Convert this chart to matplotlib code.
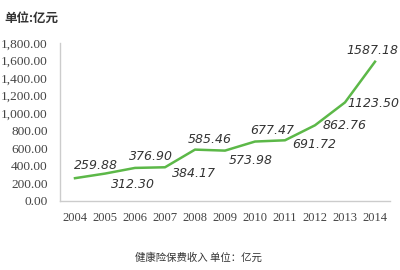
import matplotlib
matplotlib.use('Agg')
import matplotlib.pyplot as plt
from matplotlib.ticker import FuncFormatter

plt.rcParams['font.family'] = ['Noto Sans CJK SC', 'DejaVu Sans']

# 数据
years = ['2004', '2005', '2006', '2007', '2008', '2009', '2010', '2011', '2012', '2013', '2014']
income = [259.88, 312.30, 376.90, 384.17, 585.46, 573.98, 677.47, 691.72, 862.76, 1123.50, 1587.18]
# 标签相对位置(像素)
label_offsets = [(21, 13), (28, -11), (16, 11), (29, -6), (15, 10), (26, -10),
                 (17, 11), (29, -4), (30, 0), (28, -1), (-3, 11)]

fig = plt.figure(figsize=(4, 2.7), dpi=100)
ax = fig.add_axes([0.15, 0.2556, 0.825, 0.585])

x = list(range(len(years)))
ax.plot(x, income, color='#5cb848', linewidth=1.8, solid_joinstyle='round')

for i, v in enumerate(income):
    ax.annotate('%.2f' % v, (x[i], v), xytext=label_offsets[i], textcoords='offset pixels',
                ha='center', va='center', fontsize=9, style='italic',
                family='DejaVu Sans', color='#333333')

ax.set_xlim(-0.5, len(years) - 0.5)
ax.set_ylim(0, 1800)
ax.set_yticks(range(0, 1801, 200))
ax.yaxis.set_major_formatter(FuncFormatter(lambda v, p: '{:,.2f}'.format(v)))
ax.set_xticks(x)
ax.set_xticklabels(years)

for lab in ax.get_yticklabels():
    lab.set_family('Liberation Serif')
    lab.set_fontsize(9.6)
    lab.set_color('#444444')
for lab in ax.get_xticklabels():
    lab.set_family('Liberation Serif')
    lab.set_fontsize(9)
    lab.set_color('#444444')

ax.tick_params(length=0)
ax.tick_params(axis='y', pad=9)
ax.tick_params(axis='x', pad=8)
for s in ['top', 'right']:
    ax.spines[s].set_visible(False)
ax.spines['left'].set_color('#cccccc')
ax.spines['bottom'].set_color('#cccccc')
ax.spines['left'].set_linewidth(1)
ax.spines['bottom'].set_linewidth(1)

fig.text(0.012, 0.933, '单位:亿元', fontsize=9, fontweight='bold', color='#333333', va='center')
fig.text(0.495, 0.045, '健康险保费收入 单位：亿元', fontsize=7.5, color='#333333', ha='center', va='center')

plt.savefig('out.png', dpi=100)
